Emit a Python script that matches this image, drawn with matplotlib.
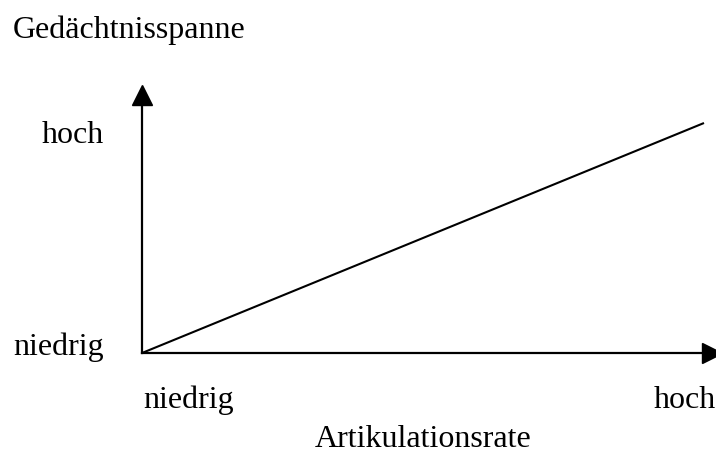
import matplotlib
matplotlib.use("Agg")
import matplotlib.pyplot as plt

# Data
articulation_rate = [0.0, 1.0]   # niedrig -> hoch
memory_span = [0.0, 1.0]         # niedrig -> hoch
level_labels = ["niedrig", "hoch"]
x_title = "Artikulationsrate"
y_title = "Gedächtnisspanne"

W, H = 716, 454
plt.rcParams['font.family'] = ['Liberation Serif', 'DejaVu Serif']
FS = 23

fig = plt.figure(figsize=(W / 100, H / 100), dpi=100)

def fx(px):
    return px / W

def fy(py):
    return 1 - py / H

# axes box in pixels: origin (142, 353), x-arrow centre 712, y-arrow centre 95
left, right, bottom, top = 142, 712, 353, 95
ax = fig.add_axes([fx(left), fy(bottom), fx(right - left), (bottom - top) / H])
ax.set_xlim(0, (right - left) / (704 - left))
ax.set_ylim(0, (bottom - top) / (bottom - 123))

ax.plot(articulation_rate, memory_span, color='black', lw=1.5, solid_capstyle='butt')

for s in ['top', 'right']:
    ax.spines[s].set_visible(False)
for s in ['left', 'bottom']:
    ax.spines[s].set_linewidth(1.6)
ax.set_xticks([])
ax.set_yticks([])

ax.plot(1, 0, '>', color='black', ms=14.4, transform=ax.transAxes, clip_on=False)
ax.plot(0, 1, '^', color='black', ms=14.4, transform=ax.transAxes, clip_on=False)

# texts
fig.text(fx(13), fy(38), y_title, fontsize=FS, ha='left', va='baseline')
fig.text(fx(42), fy(143), level_labels[1], fontsize=FS, ha='left', va='baseline')
fig.text(fx(13), fy(355), level_labels[0], fontsize=FS, ha='left', va='baseline')
fig.text(fx(143), fy(408), level_labels[0], fontsize=FS, ha='left', va='baseline')
fig.text(fx(716), fy(408), level_labels[1], fontsize=FS, ha='right', va='baseline')
fig.text(fx(315), fy(447), x_title, fontsize=FS, ha='left', va='baseline')

fig.savefig('out.png', dpi=100)
